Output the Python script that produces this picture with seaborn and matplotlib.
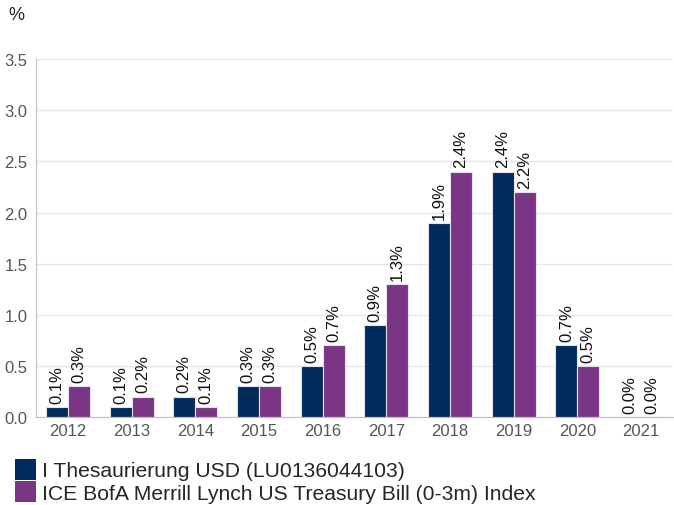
import matplotlib
matplotlib.use("Agg")
import matplotlib.pyplot as plt
import seaborn as sns
import pandas as pd

years = ["2012", "2013", "2014", "2015", "2016", "2017", "2018", "2019", "2020", "2021"]
fund = [0.1, 0.1, 0.2, 0.3, 0.5, 0.9, 1.9, 2.4, 0.7, 0.0]
index = [0.3, 0.2, 0.1, 0.3, 0.7, 1.3, 2.4, 2.2, 0.5, 0.0]
series_names = ["I Thesaurierung USD (LU0136044103)",
                "ICE BofA Merrill Lynch US Treasury Bill (0-3m) Index"]
colors = ["#002b5c", "#7b3585"]

df = pd.DataFrame({
    "year": years * 2,
    "value": fund + index,
    "series": [series_names[0]] * len(years) + [series_names[1]] * len(years),
})

sns.set_style("white")
plt.rcParams["font.family"] = ["Liberation Sans", "DejaVu Sans"]

fig = plt.figure(figsize=(6.74, 5.06), dpi=100)
ax = fig.add_axes([0.0534, 0.174, 0.945, 0.707])

sns.barplot(data=df, x="year", y="value", hue="series", palette=colors,
            saturation=1, width=0.69, edgecolor="#e8e0f0", linewidth=0.8,
            ax=ax, legend=False)

for cont in ax.containers:
    labels = [f"{v:.1f}%" for v in cont.datavalues]
    ax.bar_label(cont, labels=labels, rotation=90, padding=3, fontsize=12, color="#111111")

ax.set_ylim(0, 3.5)
ax.set_xlim(-0.5, 9.5)
ticks = [0, 0.5, 1.0, 1.5, 2.0, 2.5, 3.0, 3.5]
ax.set_yticks(ticks)
ax.set_yticklabels([f"{t:.1f}" for t in ticks])
ax.yaxis.grid(True, color="#e6e6e6", linewidth=1)
ax.set_axisbelow(True)
ax.set_xlabel("")
ax.set_ylabel("")
ax.tick_params(axis="both", labelsize=12, colors="#555555", length=0)
ax.tick_params(axis="y", pad=6)
ax.tick_params(axis="x", pad=4)
for s in ["top", "right"]:
    ax.spines[s].set_visible(False)
ax.spines["left"].set_color("#c0c0c0")
ax.spines["bottom"].set_color("#c0c0c0")

fig.text(0.013, 0.97, "%", fontsize=13, color="#222222", ha="left", va="center")

from matplotlib.patches import Patch
handles = [Patch(facecolor=c, edgecolor="none") for c in colors]
fig.legend(handles, series_names, loc="lower left",
           bbox_to_anchor=(15 / 674, 2 / 506),
           frameon=False, fontsize=15.2, handlelength=0.98, handleheight=1.15,
           handletextpad=0.3, labelspacing=0.05, borderaxespad=0, borderpad=0)

fig.savefig("out.png", dpi=100)
